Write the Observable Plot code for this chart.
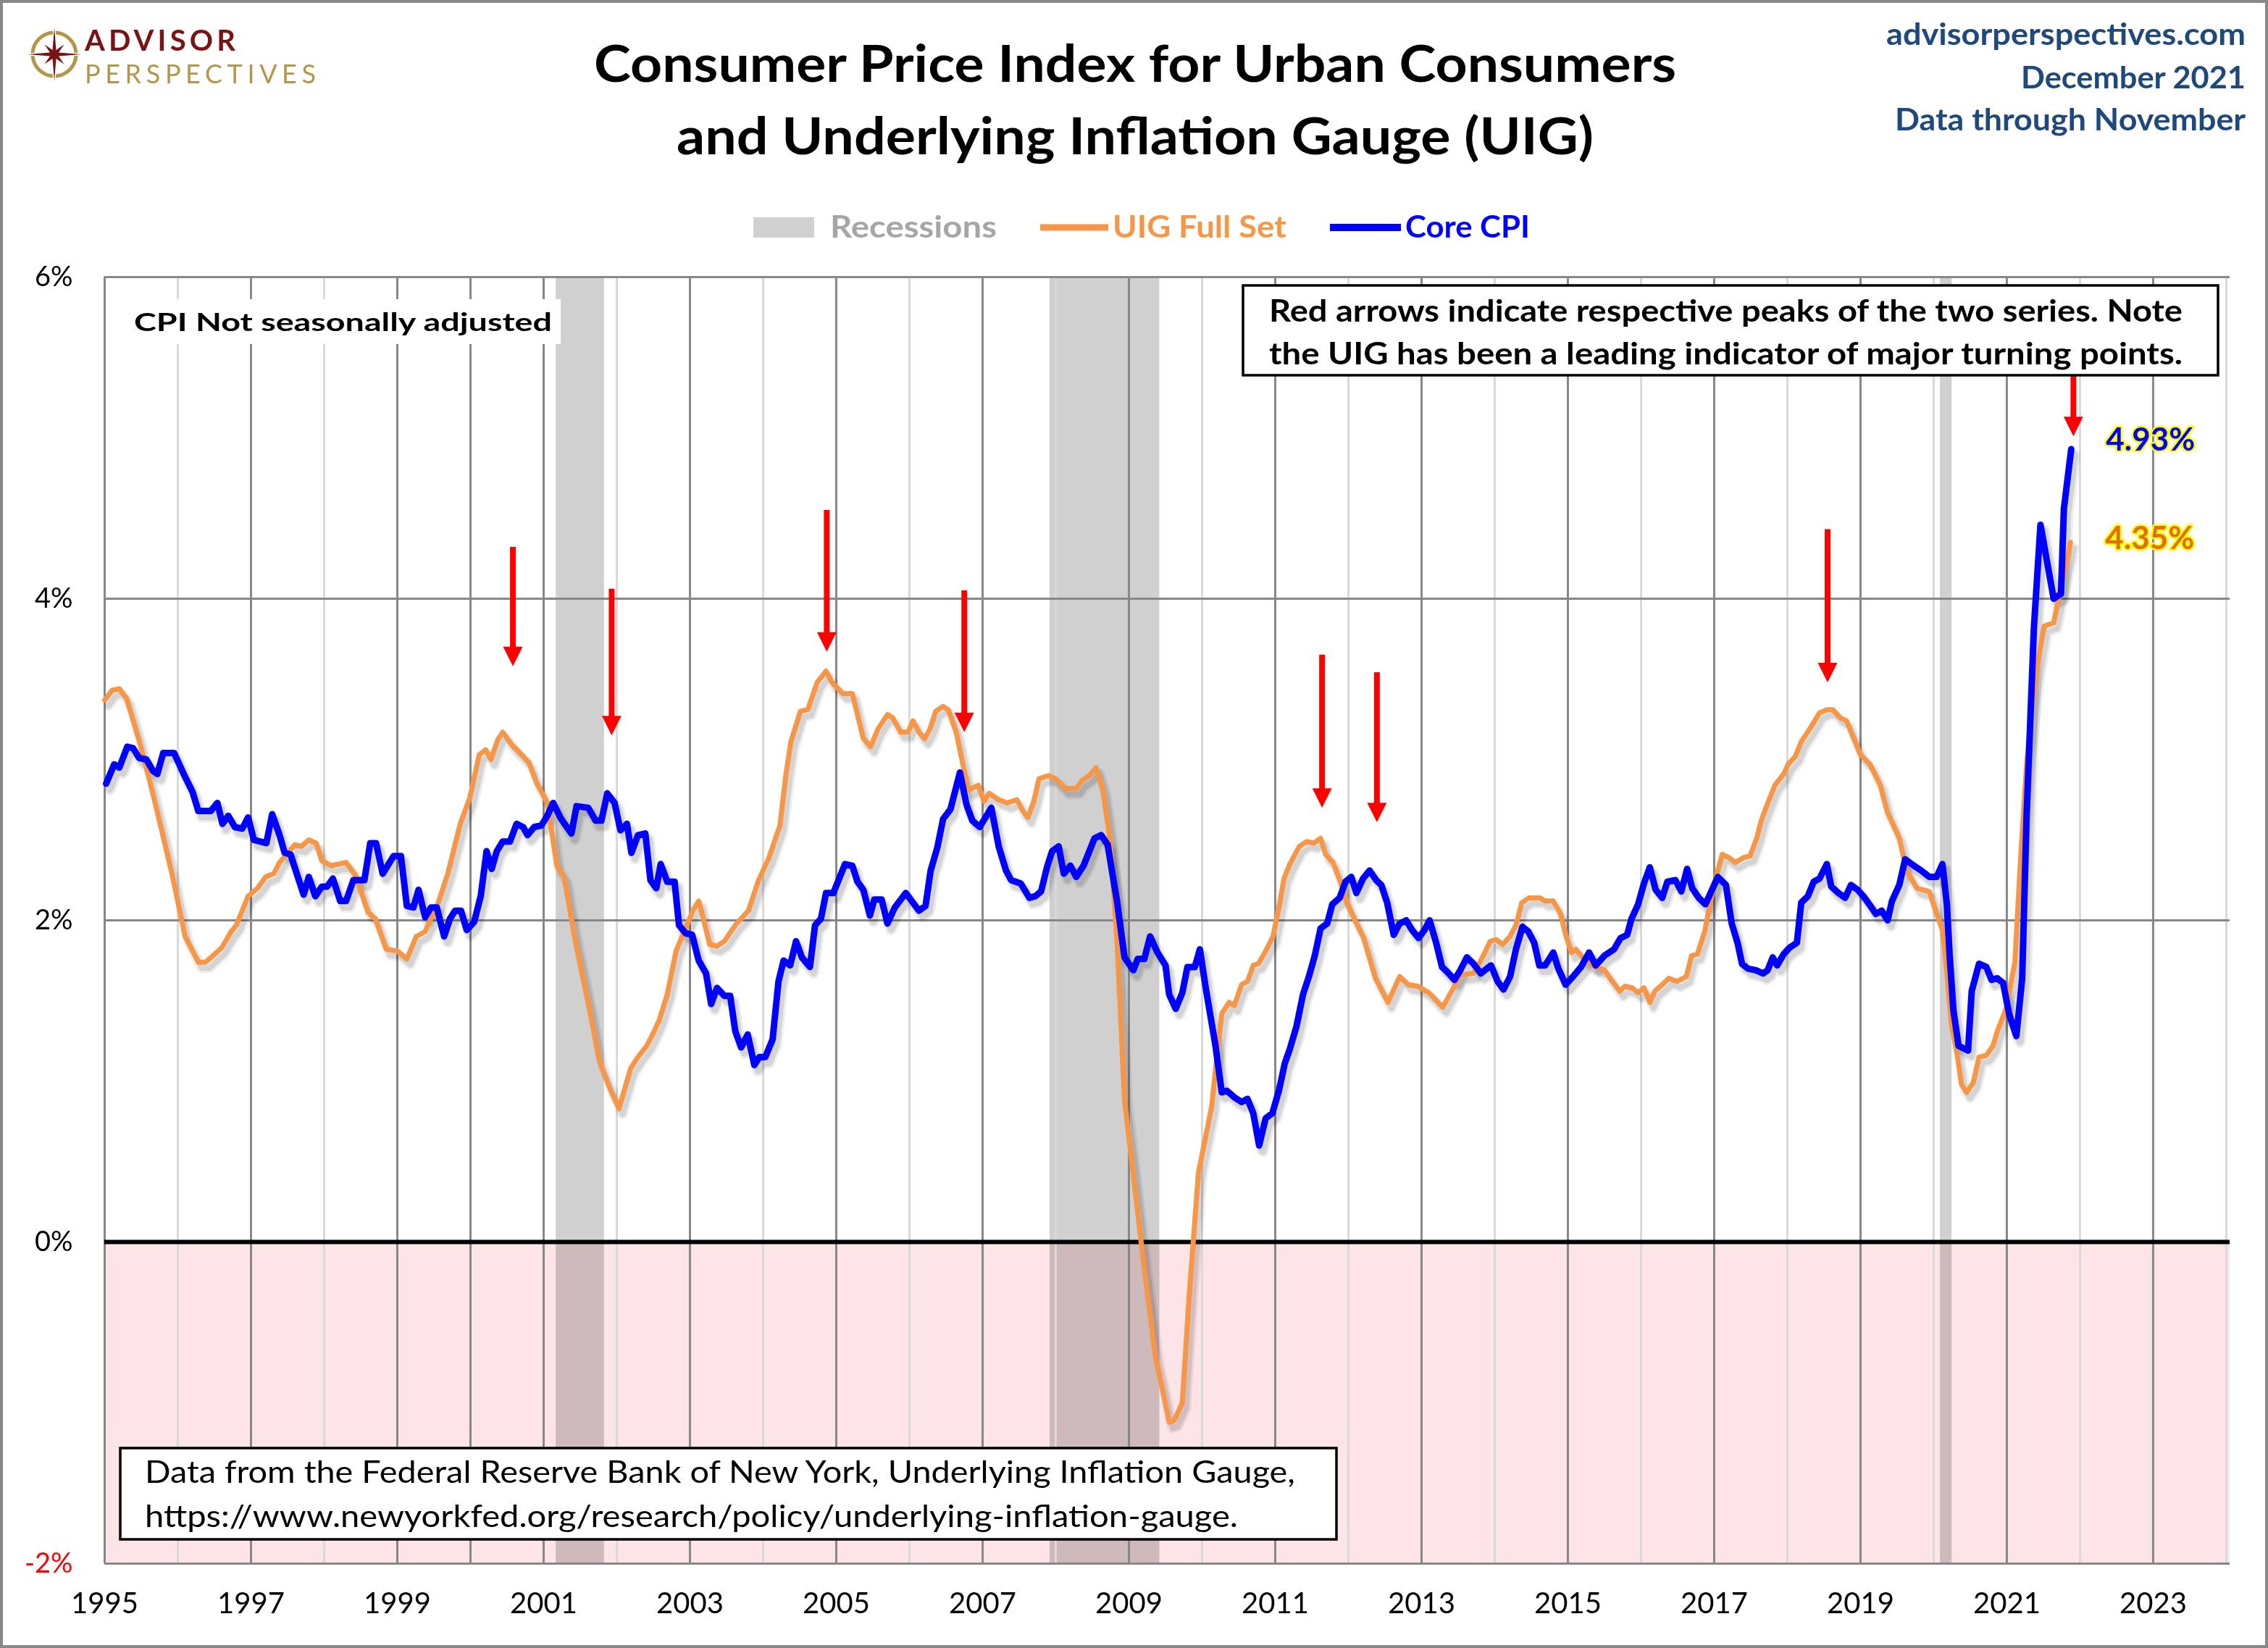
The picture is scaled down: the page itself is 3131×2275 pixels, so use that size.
<!DOCTYPE html>
<html>
<head>
<meta charset="utf-8">
<script src="https://cdn.jsdelivr.net/npm/d3@7"></script>
<script src="https://cdn.jsdelivr.net/npm/@observablehq/plot@0.6"></script>
<style>
  html, body { margin: 0; padding: 0; background: #ffffff; }
  #chart { width: 3131px; height: 2275px; }
</style>
</head>
<body>
<div id="chart"></div>
<script>
// ---------------- DATA (decimal year, percent) ----------------
const uigFullSet = [
  [1995.00,3.37],[1995.10,3.43],[1995.20,3.44],[1995.30,3.38],[1995.47,3.12],[1995.62,2.86],[1995.77,2.58],[1995.92,2.29],
  [1996.10,1.90],[1996.28,1.74],[1996.38,1.74],[1996.48,1.78],[1996.60,1.83],[1996.73,1.93],[1996.80,1.97],[1996.96,2.15],
  [1997.09,2.20],[1997.20,2.27],[1997.31,2.29],[1997.39,2.36],[1997.60,2.47],[1997.69,2.46],[1997.79,2.50],[1997.89,2.48],[1997.97,2.37],
  [1998.10,2.34],[1998.30,2.36],[1998.43,2.28],[1998.60,2.05],[1998.70,2.01],[1998.85,1.82],
  [1999.00,1.81],[1999.13,1.76],[1999.26,1.90],[1999.38,1.93],[1999.56,2.11],[1999.69,2.29],[1999.86,2.60],[1999.99,2.76],
  [2000.12,3.03],[2000.21,3.06],[2000.28,3.00],[2000.37,3.12],[2000.44,3.17],[2000.57,3.09],[2000.72,3.02],[2000.80,2.98],[2000.90,2.86],
  [2001.05,2.73],[2001.18,2.34],[2001.28,2.27],[2001.43,1.88],[2001.63,1.44],[2001.76,1.13],[2001.91,0.95],
  [2002.03,0.83],[2002.19,1.08],[2002.29,1.15],[2002.41,1.22],[2002.50,1.30],[2002.58,1.38],[2002.69,1.54],[2002.81,1.81],[2002.94,1.95],
  [2003.04,2.06],[2003.12,2.12],[2003.19,2.00],[2003.27,1.85],[2003.37,1.84],[2003.47,1.87],[2003.62,1.97],[2003.80,2.06],[2003.93,2.24],
  [2004.08,2.39],[2004.23,2.59],[2004.31,2.90],[2004.38,3.11],[2004.51,3.30],[2004.61,3.31],[2004.74,3.48],[2004.86,3.55],[2004.94,3.48],
  [2005.09,3.41],[2005.22,3.41],[2005.29,3.28],[2005.37,3.13],[2005.47,3.08],[2005.57,3.19],[2005.70,3.28],[2005.77,3.26],[2005.88,3.17],[2005.98,3.17],
  [2006.05,3.24],[2006.13,3.17],[2006.21,3.13],[2006.28,3.19],[2006.36,3.30],[2006.46,3.33],[2006.53,3.31],[2006.64,3.17],[2006.74,2.95],[2006.81,2.81],[2006.94,2.84],
  [2007.02,2.74],[2007.09,2.79],[2007.22,2.75],[2007.34,2.73],[2007.47,2.75],[2007.55,2.68],[2007.62,2.64],[2007.70,2.74],[2007.77,2.88],[2007.90,2.90],
  [2008.00,2.88],[2008.13,2.82],[2008.28,2.82],[2008.36,2.87],[2008.46,2.90],[2008.55,2.95],[2008.64,2.82],[2008.74,2.51],[2008.84,1.85],[2008.94,0.88],
  [2009.07,0.38],[2009.20,-0.13],[2009.36,-0.71],[2009.45,-0.90],[2009.55,-1.12],[2009.62,-1.11],[2009.73,-1.00],[2009.82,-0.36],[2009.95,0.43],
  [2010.13,0.84],[2010.22,1.23],[2010.27,1.42],[2010.37,1.49],[2010.44,1.47],[2010.54,1.60],[2010.62,1.62],[2010.70,1.72],[2010.77,1.73],[2010.87,1.81],[2010.97,1.90],
  [2011.05,2.08],[2011.12,2.26],[2011.20,2.35],[2011.33,2.46],[2011.43,2.49],[2011.53,2.48],[2011.62,2.51],[2011.69,2.41],[2011.79,2.36],[2011.89,2.24],[2011.99,2.10],
  [2012.09,2.00],[2012.21,1.89],[2012.37,1.64],[2012.54,1.49],[2012.70,1.65],[2012.82,1.60],[2012.95,1.59],
  [2013.10,1.55],[2013.29,1.46],[2013.40,1.55],[2013.53,1.66],[2013.71,1.67],[2013.81,1.75],[2013.94,1.87],
  [2014.02,1.88],[2014.11,1.85],[2014.21,1.90],[2014.29,1.97],[2014.37,2.11],[2014.47,2.14],[2014.62,2.14],[2014.69,2.12],[2014.80,2.12],[2014.90,2.04],[2014.97,1.91],
  [2015.05,1.80],[2015.11,1.82],[2015.20,1.77],[2015.33,1.72],[2015.50,1.69],[2015.61,1.62],[2015.71,1.56],[2015.78,1.59],[2015.88,1.58],[2015.96,1.55],
  [2016.04,1.58],[2016.12,1.49],[2016.19,1.56],[2016.29,1.60],[2016.38,1.64],[2016.49,1.62],[2016.62,1.65],[2016.69,1.78],[2016.77,1.79],[2016.87,1.93],[2016.95,2.12],
  [2017.02,2.26],[2017.11,2.41],[2017.20,2.39],[2017.29,2.36],[2017.40,2.39],[2017.49,2.40],[2017.58,2.51],[2017.65,2.63],[2017.75,2.75],[2017.83,2.84],[2017.95,2.91],
  [2018.01,2.97],[2018.11,3.02],[2018.19,3.11],[2018.32,3.20],[2018.44,3.29],[2018.54,3.31],[2018.62,3.31],[2018.72,3.26],[2018.81,3.24],[2018.90,3.14],
  [2019.00,3.03],[2019.13,2.97],[2019.27,2.84],[2019.37,2.67],[2019.53,2.51],[2019.63,2.31],[2019.77,2.20],[2019.94,2.18],
  [2020.02,2.07],[2020.12,1.94],[2020.18,1.68],[2020.24,1.36],[2020.32,1.17],[2020.38,0.98],[2020.45,0.93],[2020.54,0.99],[2020.62,1.15],[2020.72,1.16],[2020.81,1.22],[2020.87,1.31],[2020.99,1.45],
  [2021.11,1.74],[2021.19,2.40],[2021.27,2.97],[2021.35,3.35],[2021.41,3.57],[2021.51,3.83],[2021.64,3.85],[2021.74,4.07],[2021.82,4.23],[2021.87,4.35]
];

const coreCpi = [
  [1995.02,2.85],[1995.13,2.97],[1995.20,2.95],[1995.31,3.08],[1995.39,3.07],[1995.47,3.01],[1995.57,3.00],[1995.66,2.93],[1995.72,2.91],[1995.80,3.04],[1995.95,3.04],
  [1996.08,2.91],[1996.20,2.80],[1996.28,2.68],[1996.45,2.68],[1996.54,2.73],[1996.61,2.60],[1996.69,2.65],[1996.78,2.58],[1996.88,2.57],[1996.96,2.64],
  [1997.04,2.50],[1997.21,2.48],[1997.29,2.66],[1997.39,2.53],[1997.46,2.42],[1997.54,2.41],[1997.72,2.16],[1997.79,2.27],[1997.88,2.15],[1997.97,2.21],
  [1998.04,2.21],[1998.12,2.26],[1998.22,2.12],[1998.30,2.12],[1998.40,2.25],[1998.55,2.25],[1998.63,2.48],[1998.71,2.48],[1998.80,2.29],[1998.95,2.40],
  [1999.05,2.40],[1999.13,2.09],[1999.22,2.08],[1999.29,2.19],[1999.38,2.02],[1999.46,2.08],[1999.54,2.08],[1999.64,1.90],[1999.72,2.01],[1999.79,2.06],[1999.87,2.06],[1999.95,1.94],
  [2000.05,1.99],[2000.14,2.15],[2000.22,2.43],[2000.29,2.32],[2000.36,2.43],[2000.44,2.49],[2000.54,2.49],[2000.63,2.60],[2000.72,2.58],[2000.78,2.53],[2000.87,2.58],[2000.97,2.59],
  [2001.05,2.65],[2001.13,2.73],[2001.24,2.63],[2001.38,2.54],[2001.45,2.71],[2001.61,2.70],[2001.71,2.62],[2001.79,2.62],[2001.87,2.79],[2001.97,2.73],
  [2002.05,2.56],[2002.14,2.60],[2002.20,2.42],[2002.29,2.53],[2002.39,2.54],[2002.46,2.25],[2002.54,2.20],[2002.60,2.35],[2002.69,2.24],[2002.79,2.24],[2002.85,1.97],[2002.94,1.92],
  [2003.03,1.91],[2003.12,1.75],[2003.22,1.67],[2003.29,1.48],[2003.37,1.58],[2003.47,1.53],[2003.55,1.53],[2003.62,1.31],[2003.70,1.21],[2003.79,1.29],[2003.88,1.10],[2003.95,1.15],
  [2004.03,1.15],[2004.13,1.26],[2004.21,1.62],[2004.28,1.75],[2004.37,1.72],[2004.45,1.87],[2004.53,1.77],[2004.64,1.71],[2004.71,1.97],[2004.79,2.01],[2004.86,2.17],[2004.96,2.17],
  [2005.12,2.35],[2005.22,2.34],[2005.29,2.24],[2005.37,2.19],[2005.46,2.03],[2005.52,2.13],[2005.62,2.13],[2005.70,1.98],[2005.80,2.08],[2005.95,2.17],
  [2006.13,2.06],[2006.22,2.09],[2006.29,2.31],[2006.38,2.45],[2006.46,2.63],[2006.56,2.69],[2006.69,2.92],[2006.78,2.72],[2006.86,2.62],[2006.96,2.58],
  [2007.12,2.70],[2007.22,2.46],[2007.32,2.31],[2007.39,2.25],[2007.52,2.23],[2007.64,2.14],[2007.72,2.15],[2007.80,2.18],[2007.88,2.33],[2007.95,2.43],
  [2008.04,2.46],[2008.11,2.29],[2008.20,2.34],[2008.28,2.27],[2008.38,2.34],[2008.53,2.51],[2008.62,2.53],[2008.71,2.47],[2008.84,2.11],[2008.94,1.77],
  [2009.06,1.69],[2009.12,1.76],[2009.21,1.76],[2009.29,1.90],[2009.39,1.80],[2009.50,1.72],[2009.55,1.54],[2009.64,1.45],[2009.73,1.55],[2009.80,1.71],[2009.90,1.71],[2009.97,1.82],
  [2010.05,1.58],[2010.18,1.23],[2010.27,0.93],[2010.34,0.94],[2010.44,0.90],[2010.54,0.87],[2010.62,0.89],[2010.70,0.80],[2010.78,0.60],[2010.87,0.77],[2010.96,0.80],
  [2011.05,0.94],[2011.13,1.11],[2011.20,1.20],[2011.29,1.34],[2011.38,1.54],[2011.46,1.65],[2011.54,1.78],[2011.62,1.95],[2011.71,1.98],[2011.78,2.10],[2011.88,2.14],[2011.96,2.24],
  [2012.04,2.27],[2012.11,2.17],[2012.20,2.26],[2012.29,2.31],[2012.38,2.25],[2012.45,2.22],[2012.53,2.11],[2012.62,1.91],[2012.70,1.98],[2012.79,2.00],[2012.87,1.94],[2012.96,1.89],
  [2013.04,1.94],[2013.11,2.00],[2013.20,1.86],[2013.28,1.71],[2013.35,1.68],[2013.45,1.63],[2013.53,1.69],[2013.62,1.77],[2013.71,1.73],[2013.81,1.67],[2013.95,1.72],
  [2014.04,1.62],[2014.12,1.57],[2014.21,1.65],[2014.29,1.82],[2014.38,1.96],[2014.46,1.93],[2014.54,1.86],[2014.61,1.72],[2014.69,1.72],[2014.80,1.80],[2014.87,1.70],[2014.97,1.60],
  [2015.07,1.65],[2015.18,1.71],[2015.29,1.80],[2015.38,1.72],[2015.50,1.78],[2015.63,1.82],[2015.72,1.89],[2015.81,1.91],[2015.87,2.01],[2015.96,2.10],
  [2016.04,2.23],[2016.12,2.33],[2016.20,2.19],[2016.29,2.14],[2016.36,2.24],[2016.47,2.25],[2016.55,2.18],[2016.63,2.32],[2016.70,2.20],[2016.79,2.14],[2016.88,2.10],[2016.97,2.19],
  [2017.05,2.27],[2017.16,2.22],[2017.24,1.98],[2017.32,1.86],[2017.38,1.73],[2017.46,1.70],[2017.57,1.69],[2017.67,1.67],[2017.73,1.69],[2017.80,1.77],[2017.86,1.72],[2017.95,1.79],
  [2018.03,1.83],[2018.13,1.86],[2018.19,2.11],[2018.28,2.15],[2018.36,2.24],[2018.44,2.26],[2018.54,2.35],[2018.60,2.21],[2018.70,2.17],[2018.79,2.14],[2018.87,2.22],[2018.96,2.19],
  [2019.04,2.15],[2019.15,2.08],[2019.21,2.04],[2019.29,2.06],[2019.37,2.00],[2019.43,2.12],[2019.53,2.22],[2019.61,2.38],[2019.73,2.34],[2019.83,2.31],[2019.94,2.27],
  [2020.04,2.27],[2020.12,2.35],[2020.18,2.10],[2020.22,1.77],[2020.27,1.44],[2020.34,1.22],[2020.47,1.19],[2020.52,1.56],[2020.62,1.73],[2020.72,1.71],[2020.79,1.63],[2020.87,1.64],[2020.95,1.61],
  [2021.03,1.42],[2021.13,1.28],[2021.21,1.64],[2021.27,2.65],[2021.37,3.82],[2021.46,4.46],[2021.55,4.23],[2021.64,4.00],[2021.74,4.03],[2021.78,4.56],[2021.88,4.93]
];

const recessions = [
  {start: 2001.17, end: 2001.83},
  {start: 2007.92, end: 2009.42},
  {start: 2020.09, end: 2020.25}
];

// red arrows: x position, top of shaft, tip (percent)
const peakArrows = [
  {x: 2000.58, top: 4.32, tip: 3.58},
  {x: 2001.93, top: 4.06, tip: 3.15},
  {x: 2004.87, top: 4.55, tip: 3.67},
  {x: 2006.75, top: 4.05, tip: 3.17},
  {x: 2011.64, top: 3.65, tip: 2.70},
  {x: 2012.39, top: 3.54, tip: 2.61},
  {x: 2018.55, top: 4.43, tip: 3.48},
  {x: 2021.91, top: 5.47, tip: 5.01}
];

const xTickLabels = [1995, 1997, 1999, 2001, 2003, 2005, 2007, 2009, 2011, 2013, 2015, 2017, 2019, 2021, 2023];
const yTickLabels = [6, 4, 2, 0];
const yTickLabelsNegative = [-2];
const gridYearsDark = [1995, 1997, 1999, 2000, 2001, 2003, 2005, 2007, 2009, 2011, 2013, 2015, 2017, 2019, 2021, 2023];
const gridYearsLight = [1996, 1998, 2002, 2004, 2006, 2008, 2010, 2012, 2014, 2016, 2018, 2020, 2022, 2024];
const gridValues = [6, 4, 2, -2];
const negativeZone = [{from: 0, to: -2}];
const xDomain = [1995, 2024.05];
const yDomain = [-2, 6];

// ---------------- CHART ----------------
const W = 3131, H = 2275;
const FONT = "Lato, 'Open Sans', sans-serif";

const triangleDown = {
  draw(context, size) {
    const k = Math.sqrt(size / Math.PI);
    const w = 2.45 * k, h = 2.45 * k;
    context.moveTo(-w / 2, -h);
    context.lineTo(w / 2, -h);
    context.lineTo(0, 0);
    context.closePath();
  }
};

const uigLast = uigFullSet[uigFullSet.length - 1];
const cpiLast = coreCpi[coreCpi.length - 1];
const px = d => d[0], py = d => d[1];

const chart = Plot.plot({
  width: W,
  height: H,
  marginTop: 382,
  marginRight: 53,
  marginBottom: 117,
  marginLeft: 144,
  style: {fontFamily: FONT, fontSize: "38px", background: "#ffffff", overflow: "visible"},
  x: {type: "linear", domain: xDomain, axis: null},
  y: {type: "linear", domain: yDomain, axis: null},
  marks: [
    Plot.rect(negativeZone, {y1: "from", y2: "to", fill: "#fde4e6"}),
    Plot.rect(recessions, {x1: "start", x2: "end", fill: "#d0d0d0", mixBlendMode: "multiply"}),
    Plot.ruleX(gridYearsLight, {stroke: "#d9d9d9", strokeWidth: 3}),
    Plot.ruleX(gridYearsDark, {stroke: "#878787", strokeWidth: 3}),
    Plot.ruleY(gridValues, {stroke: "#878787", strokeWidth: 3}),
    Plot.ruleY([0], {stroke: "#000000", strokeWidth: 6}),
    Plot.text(xTickLabels, {x: d => d, text: d => String(d), frameAnchor: "bottom", dy: 68, fontSize: 40, fill: "#000000"}),
    Plot.text(yTickLabels, {y: d => d, text: d => d + "%", frameAnchor: "left", dx: -44, textAnchor: "end", fontSize: 38, fill: "#000000"}),
    Plot.text(yTickLabelsNegative, {y: d => d, text: d => d + "%", frameAnchor: "left", dx: -44, textAnchor: "end", fontSize: 38, fill: "#ff0000"}),
    // soft shadows under the two series
    Plot.line(uigFullSet, {x: px, y: py, stroke: "#000000", strokeOpacity: 0.07, strokeWidth: 14, dx: 5, dy: 8, strokeLinejoin: "round"}),
    Plot.line(uigFullSet, {x: px, y: py, stroke: "#000000", strokeOpacity: 0.10, strokeWidth: 8, dx: 5, dy: 8, strokeLinejoin: "round"}),
    Plot.line(coreCpi, {x: px, y: py, stroke: "#000000", strokeOpacity: 0.07, strokeWidth: 16, dx: 5, dy: 8, strokeLinejoin: "round"}),
    Plot.line(coreCpi, {x: px, y: py, stroke: "#000000", strokeOpacity: 0.10, strokeWidth: 10, dx: 5, dy: 8, strokeLinejoin: "round"}),
    Plot.line(uigFullSet, {x: px, y: py, stroke: "#f79646", strokeWidth: 7, strokeLinejoin: "round"}),
    Plot.line(coreCpi, {x: px, y: py, stroke: "#0000ff", strokeWidth: 9, strokeLinejoin: "round"}),
    Plot.ruleX(peakArrows, {x: "x", y1: "top", y2: "tip", stroke: "#ff0000", strokeWidth: 8, insetBottom: 22, ariaLabel: "arrow-shaft"}),
    Plot.dot(peakArrows, {x: "x", y: "tip", symbol: triangleDown, r: 11, fill: "#ff0000", ariaLabel: "arrow-head"}),
    Plot.text([cpiLast], {x: px, y: py, text: d => d[1].toFixed(2) + "%", textAnchor: "start", dx: 48, dy: -12,
      fontSize: 44, fontWeight: 700, fill: "#0000ff", stroke: "#ffff00", strokeWidth: 5, strokeLinejoin: "round", paintOrder: "stroke", ariaLabel: "end-label"}),
    Plot.text([uigLast], {x: px, y: py, text: d => d[1].toFixed(2) + "%", textAnchor: "start", dx: 48, dy: -5,
      fontSize: 44, fontWeight: 700, fill: "#e46c0a", stroke: "#ffff00", strokeWidth: 5, strokeLinejoin: "round", paintOrder: "stroke", ariaLabel: "end-label"})
  ]
});

document.getElementById("chart").appendChild(chart);

// ---------------- DECORATION ----------------
const svg = d3.select(chart);
const annot = svg.insert("g", 'g[aria-label="arrow-shaft"]').attr("class", "annotations");

function addText(g, str, o) {
  const t = g.append("text")
    .attr("x", o.x).attr("y", o.y)
    .attr("font-family", o.family || FONT)
    .attr("font-size", o.size)
    .attr("font-weight", o.weight || 400)
    .attr("fill", o.fill || "#000000")
    .attr("text-anchor", o.anchor || "start")
    .text(str);
  if (o.len) t.attr("textLength", o.len).attr("lengthAdjust", "spacingAndGlyphs");
  if (o.ls != null) t.attr("letter-spacing", o.ls);
  return t;
}

// Title
addText(annot, "Consumer Price Index for Urban Consumers", {x: 1567, y: 113, size: 70, weight: 700, anchor: "middle", len: 1494});
addText(annot, "and Underlying Inflation Gauge (UIG)", {x: 1567, y: 213, size: 70, weight: 700, anchor: "middle", len: 1266});

// Top-right info
const navy = "#1f497d";
addText(annot, "advisorperspectives.com", {x: 3100, y: 62, size: 42, weight: 700, fill: navy, anchor: "end", len: 496});
addText(annot, "December 2021", {x: 3100, y: 122, size: 42, weight: 700, fill: navy, anchor: "end", len: 310});
addText(annot, "Data through November", {x: 3100, y: 180, size: 42, weight: 700, fill: navy, anchor: "end", len: 484});

// Logo
const logo = annot.append("g");
logo.append("circle").attr("cx", 75).attr("cy", 75).attr("r", 30)
  .attr("fill", "none").attr("stroke", "#b5954a").attr("stroke-width", 5);
const starPts = [];
for (let i = 0; i < 16; i++) {
  const ang = -Math.PI / 2 + i * Math.PI / 8;
  let r;
  if (i % 4 === 0) r = 37; else if (i % 2 === 0) r = 19; else r = 6.5;
  starPts.push([75 + r * Math.cos(ang), 75 + r * Math.sin(ang)]);
}
logo.append("path").attr("d", "M" + starPts.map(p => p.join(",")).join("L") + "Z")
  .attr("fill", "#7a1315").attr("stroke", "#ffffff").attr("stroke-width", 3).attr("paint-order", "stroke");
addText(logo, "ADVISOR", {x: 117, y: 70, size: 40, weight: 700, fill: "#7a1315", ls: 5.2});
addText(logo, "PERSPECTIVES", {x: 117, y: 115, size: 36, weight: 400, fill: "#b5954a", ls: 6.6});

// Legend
annot.append("rect").attr("x", 1040).attr("y", 300).attr("width", 84).attr("height", 28).attr("fill", "#d0d0d0");
addText(annot, "Recessions", {x: 1146, y: 328, size: 42, weight: 700, fill: "#a6a6a6", len: 230});
annot.append("line").attr("x1", 1436).attr("x2", 1530).attr("y1", 314).attr("y2", 314).attr("stroke", "#f79646").attr("stroke-width", 9);
addText(annot, "UIG Full Set", {x: 1536, y: 328, size: 42, weight: 700, fill: "#f79646", len: 240});
annot.append("line").attr("x1", 1836).attr("x2", 1934).attr("y1", 314).attr("y2", 314).attr("stroke", "#0000ff").attr("stroke-width", 10);
addText(annot, "Core CPI", {x: 1940, y: 328, size: 42, weight: 700, fill: "#0000ff", len: 172});

// "CPI Not seasonally adjusted" label
annot.append("rect").attr("x", 146).attr("y", 413).attr("width", 628).attr("height", 62).attr("fill", "#ffffff");
addText(annot, "CPI Not seasonally adjusted", {x: 185, y: 457, size: 35, weight: 700, len: 577});

// Note box
annot.append("rect").attr("x", 1716).attr("y", 394).attr("width", 1346).attr("height", 124)
  .attr("fill", "#ffffff").attr("stroke", "#000000").attr("stroke-width", 3.5);
addText(annot, "Red arrows indicate respective peaks of the two series. Note", {x: 1752, y: 444, size: 42, weight: 700, len: 1261});
addText(annot, "the UIG has been a leading indicator of major turning points.", {x: 1752, y: 503, size: 42, weight: 700, len: 1261});

// Source box
annot.append("rect").attr("x", 166).attr("y", 1999).attr("width", 1679).attr("height", 126)
  .attr("fill", "#ffffff").attr("stroke", "#000000").attr("stroke-width", 3.5);
addText(annot, "Data from the Federal Reserve Bank of New York, Underlying Inflation Gauge,", {x: 200, y: 2047, size: 43, weight: 400, len: 1588});
addText(annot, "https://www.newyorkfed.org/research/policy/underlying-inflation-gauge.", {x: 200, y: 2108, size: 43, weight: 400, len: 1509});

// Outer border
svg.append("rect").attr("x", 2).attr("y", 2).attr("width", W - 4).attr("height", H - 4)
  .attr("fill", "none").attr("stroke", "#878787").attr("stroke-width", 4);
</script>
</body>
</html>
